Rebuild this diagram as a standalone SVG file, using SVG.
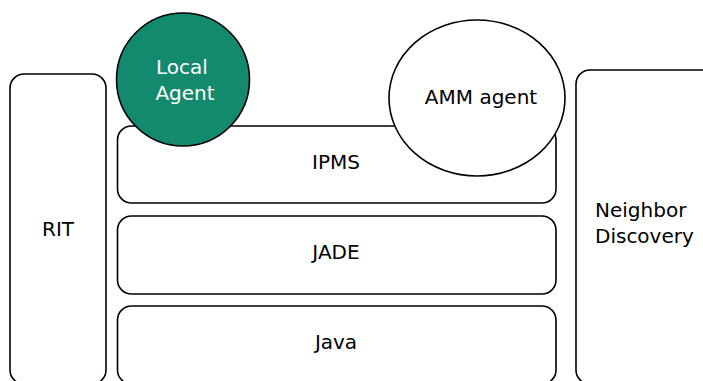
<svg xmlns="http://www.w3.org/2000/svg" width="703" height="381" viewBox="0 0 703 381">
<style>
.box{fill:#fff;stroke:#000;stroke-width:1.6}
.t{font-family:"DejaVu Sans",sans-serif;font-size:20px;fill:#000}
.w{fill:#fff}
</style>
<rect width="703" height="381" fill="#fff"/>
<g id="rit"><rect class="box" x="10" y="74" width="96" height="310" rx="14"/><text class="t" x="58" y="236" text-anchor="middle">RIT</text></g>
<g id="ipms"><rect class="box" x="117.5" y="126" width="438.5" height="77" rx="14"/><text class="t" x="336" y="169" text-anchor="middle">IPMS</text></g>
<g id="jade"><rect class="box" x="117.5" y="216" width="438.5" height="78" rx="14"/><text class="t" x="336" y="259" text-anchor="middle">JADE</text></g>
<g id="java"><rect class="box" x="117.5" y="306" width="438.5" height="78" rx="14"/><text class="t" x="336" y="349" text-anchor="middle">Java</text></g>
<g id="nd"><rect class="box" x="576" y="70" width="140" height="314" rx="14"/><text class="t" x="595" y="217">Neighbor</text><text class="t" x="595" y="243">Discovery</text></g>
<g id="local-agent"><circle cx="183" cy="79.5" r="66.5" fill="#13896d" stroke="#000" stroke-width="1.6"/><text class="t w" x="182" y="74" text-anchor="middle">Local</text><text class="t w" x="185" y="100" text-anchor="middle">Agent</text></g>
<g id="amm-agent"><ellipse class="box" cx="477" cy="98" rx="88" ry="78"/><text class="t" x="481" y="104" text-anchor="middle">AMM agent</text></g>
<g id="connectors"></g>
</svg>
